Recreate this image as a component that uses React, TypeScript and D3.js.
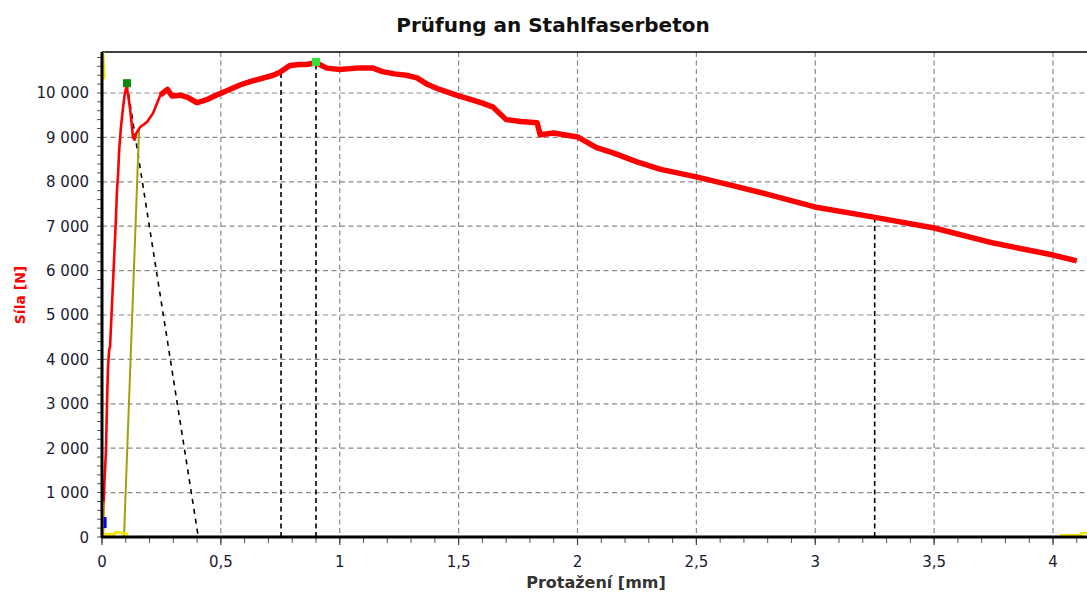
import React from "react";
import * as d3 from "d3";

// ---- data ----
const title = "Prüfung an Stahlfaserbeton";
const xTitle = "Protažení [mm]";
const yTitle = "Síla [N]";

const xTicks = [0, 0.5, 1, 1.5, 2, 2.5, 3, 3.5, 4];
const xTickLabels = ["0", "0,5", "1", "1,5", "2", "2,5", "3", "3,5", "4"];
const yTicks = [0, 1000, 2000, 3000, 4000, 5000, 6000, 7000, 8000, 9000, 10000];
const yTickLabels = ["0", "1 000", "2 000", "3 000", "4 000", "5 000", "6 000", "7 000", "8 000", "9 000", "10 000"];

// main force-extension curve (red)
const forceX = [
  0.003, 0.006, 0.010, 0.017, 0.021, 0.025, 0.030, 0.034, 0.040, 0.046, 0.052, 0.058, 0.063, 0.068, 0.072,
  0.080, 0.088, 0.095, 0.103, 0.110, 0.118, 0.125, 0.130, 0.137, 0.145, 0.160, 0.190, 0.215, 0.245,
  0.275, 0.295, 0.330, 0.360, 0.400, 0.440, 0.480, 0.520, 0.580, 0.620, 0.665, 0.720,
  0.750, 0.790, 0.830, 0.860, 0.900, 0.946, 1.000, 1.070, 1.140, 1.180, 1.230, 1.280, 1.325, 1.370, 1.420,
  1.490, 1.560, 1.600, 1.645, 1.700, 1.760, 1.830, 1.843, 1.900, 2.000, 2.080, 2.150, 2.250, 2.350, 2.500,
  2.640, 2.820, 3.010, 3.240, 3.500, 3.750, 4.000, 4.100,
];
const forceY = [
  0, 600, 1200, 2000, 3000, 3800, 4200, 4300, 5000, 5700, 6400, 7100, 7800, 8200, 8700,
  9250, 9650, 9950, 10150, 9950, 9650, 9300, 9000, 8950, 9100, 9230, 9350, 9550, 9950,
  10080, 9930, 9950, 9900, 9780, 9850, 9950, 10040, 10180, 10250, 10320, 10400,
  10470, 10620, 10640, 10640, 10680, 10560, 10530, 10560, 10560, 10480, 10430, 10400, 10340, 10190, 10080,
  9950, 9840, 9770, 9680, 9400, 9360, 9330, 9060, 9100, 9010, 8770, 8650, 8450, 8280, 8110,
  7930, 7690, 7420, 7210, 6960, 6620, 6350, 6220,
];

// reloading line (olive)
const reloadX = [0.0925, 0.156];
const reloadY = [0, 9170];

// secant (black dashed) from first peak to zero
const secantX = [0.105, 0.405];
const secantY = [10200, 0];

// vertical evaluation lines: x position and force where they meet curve
const markX = [0.753, 0.9, 3.25];
const markY = [10450, 10680, 7200];

// points
const peakPoints = [
  { x: 0.105, y: 10220, color: "#0a8a0a" },
  { x: 0.9, y: 10700, color: "#33e033" },
];

// small yellow / blue markers
const yellowTopX = [0.004, 0.006, 0.008, 0.01, 0.006, 0.006];
const yellowTopY = [10920, 10700, 10450, 10400, 10400, 10300];
const yellowBottomX = [0.004, 0.004, 0.01, 0.05, 0.06, 0.11];
const yellowBottomY = [800, 60, 60, 60, 110, 60];
const yellowEndX = [4.03, 4.12, 4.12, 4.15];
const yellowEndY = [40, 40, 90, 90];
const blueX = [0.013, 0.013];
const blueY = [200, 450];

const W = 1087;
const H = 594;
const left = 102;
const top = 52;
const bottom = 537;
const pxPerMm = 237.75;
const xMax = (W - left) / pxPerMm;
const yMax = 10923;

export default function App() {
  const x = d3.scaleLinear().domain([0, xMax]).range([left, W]);
  const y = d3.scaleLinear().domain([0, yMax]).range([bottom, top]);

  const line = d3
    .line<[number, number]>()
    .x((d) => x(d[0]))
    .y((d) => y(d[1]));

  const pts = (xs: number[], vs: number[]): [number, number][] => xs.map((v, i) => [v, vs[i]]);
  const forcePts = pts(forceX, forceY);
  const risePts = forcePts.filter((d) => d[0] <= 0.3);
  const restPts = forcePts.filter((d) => d[0] >= 0.245);

  const minorX = d3.range(0, xMax, 0.1);
  const minorY = d3.range(0, yMax, 200);

  const labelFont = "'DejaVu Sans', Verdana, sans-serif";

  return (
    <svg width={W} height={H} style={{ position: "absolute", left: 0, top: 0, background: "#fff" }}>
      <rect x={0} y={0} width={W} height={H} fill="#fff" />
      <text x={553} y={32} textAnchor="middle" fontFamily={labelFont} fontWeight="bold" fontSize={20} fill="#111">
        {title}
      </text>

      {/* grid */}
      {yTicks.filter((t) => t > 0).map((t) => (
        <line key={"gy" + t} x1={left} x2={W} y1={y(t)} y2={y(t)} stroke="#8a8a8a" strokeWidth={1.2} strokeDasharray="5,3.5" />
      ))}
      {xTicks.filter((t) => t > 0).map((t) => (
        <line key={"gx" + t} x1={x(t)} x2={x(t)} y1={top} y2={bottom} stroke="#8a8a8a" strokeWidth={1.2} strokeDasharray="5,3.5" />
      ))}

      {/* minor ticks */}
      {minorY.map((t) => (
        <line key={"my" + t} x1={left - 5} x2={left} y1={y(t)} y2={y(t)} stroke="#555" strokeWidth={1} />
      ))}
      {minorX.map((t) => (
        <line key={"mx" + t} x1={x(t)} x2={x(t)} y1={bottom} y2={bottom + 6} stroke="#555" strokeWidth={1} />
      ))}
      {xTicks.map((t) => (
        <line key={"Mx" + t} x1={x(t)} x2={x(t)} y1={bottom} y2={bottom + 8} stroke="#444" strokeWidth={1.2} />
      ))}

      {/* frame */}
      <line x1={left} x2={W} y1={top} y2={top} stroke="#000" strokeWidth={1.5} />

      {/* secant and evaluation lines */}
      <path d={line(pts(secantX, secantY)) || ""} fill="none" stroke="#000" strokeWidth={1.6} strokeDasharray="5,5" />
      {markX.map((v, i) => (
        <line key={"mk" + i} x1={x(v)} x2={x(v)} y1={bottom} y2={y(markY[i])} stroke="#000" strokeWidth={1.6} strokeDasharray="5,3.5" />
      ))}

      {/* reload line */}
      <path d={line(pts(reloadX, reloadY)) || ""} fill="none" stroke="#a0a010" strokeWidth={2} />

      {/* main curve */}
      <path d={line(risePts) || ""} fill="none" stroke="#ff0000" strokeWidth={2.6} strokeLinejoin="round" />
      <path d={line(restPts) || ""} fill="none" stroke="#ff0000" strokeWidth={5.5} strokeLinejoin="round" />

      {/* small markers */}
      <path d={line(pts(yellowTopX, yellowTopY)) || ""} fill="none" stroke="#f5e600" strokeWidth={3} />
      <path d={line(pts(yellowBottomX, yellowBottomY)) || ""} fill="none" stroke="#f5e600" strokeWidth={3} />
      <path d={line(pts(yellowEndX, yellowEndY)) || ""} fill="none" stroke="#f5e600" strokeWidth={2.5} />
      <path d={line(pts(blueX, blueY)) || ""} fill="none" stroke="#0000ff" strokeWidth={3} />
      {peakPoints.map((p, i) => (
        <rect key={"pp" + i} x={x(p.x) - 3.5} y={y(p.y) - 3.5} width={7} height={7} fill={p.color} stroke={p.color} />
      ))}

      {/* axes */}
      <line x1={left} x2={left} y1={top} y2={bottom + 1} stroke="#000" strokeWidth={3} />
      <line x1={left} x2={W} y1={bottom} y2={bottom} stroke="#000" strokeWidth={3} />

      {/* tick labels */}
      {yTicks.map((t, i) => (
        <text key={"ly" + t} x={89} y={y(t) + 5.5} textAnchor="end" fontFamily={labelFont} fontSize={15} fill="#1a1a30">
          {yTickLabels[i]}
        </text>
      ))}
      {xTicks.map((t, i) => (
        <text key={"lx" + t} x={x(t)} y={567} textAnchor="middle" fontFamily={labelFont} fontSize={15} fill="#1a1a30">
          {xTickLabels[i]}
        </text>
      ))}

      <text x={596} y={588} textAnchor="middle" fontFamily={labelFont} fontWeight="bold" fontSize={16} fill="#333">
        {xTitle}
      </text>
      <text transform="translate(25,295) rotate(-90)" textAnchor="middle" fontFamily={labelFont} fontWeight="bold" fontSize={14} fill="#ff0000">
        {yTitle}
      </text>
    </svg>
  );
}
